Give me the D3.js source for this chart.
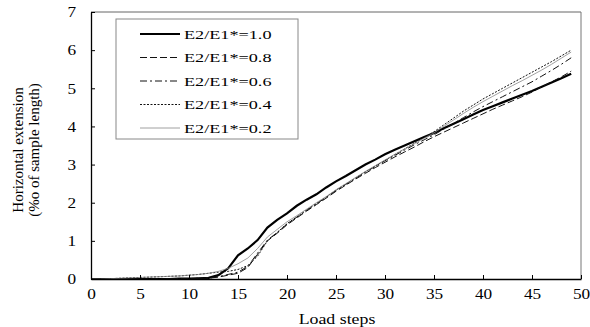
<!DOCTYPE html>
<html>
<head>
<meta charset="utf-8">
<script src="https://cdn.jsdelivr.net/npm/d3@7"></script>
<style>
  body { margin: 0; background: #fff; }
  text { font-family: "Liberation Serif", "Times New Roman", Times, serif; fill: #000; }
</style>
</head>
<body>
<script>
// load steps 0..49
const steps = d3.range(0, 50);

const s10 = [0,0,0,0,0,0,0,0,0,0.01,0.01,0.02,0.03,0.1,0.28,0.62,0.8,1.02,1.35,1.55,
  1.72,1.92,2.08,2.22,2.4,2.56,2.7,2.85,3.0,3.13,3.27,3.39,3.5,3.61,3.72,3.83,3.95,4.07,4.19,4.31,
  4.43,4.53,4.63,4.73,4.83,4.93,5.04,5.15,5.26,5.38];
const s08 = [0,0,0,0,0,0,0,0,0.01,0.01,0.01,0.02,0.02,0.05,0.1,0.15,0.3,0.65,1.0,1.2,
  1.42,1.6,1.78,1.95,2.12,2.3,2.46,2.62,2.77,2.92,3.06,3.2,3.33,3.46,3.6,3.73,3.85,3.97,4.09,4.21,
  4.33,4.45,4.56,4.67,4.78,4.9,5.04,5.17,5.3,5.45];
const s06 = [0,0,0,0,0,0,0,0,0.01,0.01,0.01,0.02,0.03,0.06,0.12,0.18,0.33,0.68,1.02,1.22,
  1.44,1.62,1.8,1.97,2.14,2.32,2.48,2.64,2.8,2.95,3.1,3.24,3.38,3.52,3.65,3.78,3.93,4.08,4.23,4.38,
  4.52,4.65,4.78,4.91,5.04,5.17,5.32,5.47,5.63,5.8];
const s04 = [0,0,0.01,0.02,0.03,0.04,0.05,0.06,0.07,0.08,0.1,0.12,0.15,0.18,0.2,0.25,0.35,0.6,1.0,1.22,
  1.45,1.63,1.81,1.98,2.15,2.33,2.49,2.65,2.81,2.96,3.11,3.26,3.41,3.56,3.71,3.86,4.04,4.22,4.4,4.56,
  4.72,4.86,5.0,5.14,5.28,5.42,5.56,5.7,5.85,6.0];
const s02 = [0,0,0.01,0.02,0.03,0.04,0.05,0.06,0.07,0.08,0.1,0.12,0.15,0.2,0.28,0.4,0.55,0.8,1.1,1.3,
  1.5,1.66,1.83,2.0,2.16,2.34,2.5,2.66,2.82,2.97,3.12,3.27,3.41,3.55,3.69,3.83,4.0,4.17,4.34,4.5,
  4.65,4.79,4.93,5.07,5.2,5.34,5.48,5.63,5.79,5.95];

const seriesNames = ["E2/E1*=1.0", "E2/E1*=0.8", "E2/E1*=0.6", "E2/E1*=0.4", "E2/E1*=0.2"];
const seriesValues = [s10, s08, s06, s04, s02];
const seriesStyle = [
  { stroke: "#000", width: 2.2, dash: null },
  { stroke: "#111", width: 1, dash: "7,3" },
  { stroke: "#111", width: 1, dash: "7,3,2,3" },
  { stroke: "#111", width: 1, dash: "2,1.5" },
  { stroke: "#888", width: 0.8, dash: null }
];
const xTicks = d3.range(0, 51, 5);
const yTicks = d3.range(0, 8, 1);

const W = 590, H = 327;
const margin = { top: 12, right: 9, bottom: 48, left: 91 };
const w = W - margin.left - margin.right;
const h = H - margin.top - margin.bottom;
const stretch = 1.15; // tick text in the reference is a bit wide

const svg = d3.select("body").append("svg").attr("width", W).attr("height", H);
const g = svg.append("g").attr("transform", `translate(${margin.left},${margin.top})`);

const x = d3.scaleLinear().domain([0, 50]).range([0, w]);
const y = d3.scaleLinear().domain([0, 7]).range([h, 0]);

// plot frame (top & right gray)
g.append("line").attr("x1", 0).attr("x2", w).attr("y1", 0).attr("y2", 0)
  .attr("stroke", "#666").attr("stroke-width", 1);
g.append("line").attr("x1", w).attr("x2", w).attr("y1", 0).attr("y2", h)
  .attr("stroke", "#777").attr("stroke-width", 1);

const line = d3.line().x((d, i) => x(steps[i])).y(d => y(d));

seriesValues.forEach((vals, k) => {
  const st = seriesStyle[k];
  g.append("path").datum(vals)
    .attr("d", line)
    .attr("fill", "none")
    .attr("stroke", st.stroke)
    .attr("stroke-width", st.width)
    .attr("stroke-dasharray", st.dash);
});

// axes with inward ticks
const xAxis = g.append("g").attr("transform", `translate(0,${h})`)
  .call(d3.axisBottom(x).tickValues(xTicks).tickFormat(d3.format("d"))
    .tickSizeInner(-4).tickSizeOuter(0).tickPadding(9));
const yAxis = g.append("g")
  .call(d3.axisLeft(y).tickValues(yTicks).tickFormat(d3.format("d"))
    .tickSizeInner(-4).tickSizeOuter(0).tickPadding(15));
[xAxis, yAxis].forEach(a => {
  a.attr("font-family", null);
  a.select(".domain").attr("stroke", "#000").attr("stroke-width", 1.3);
  a.selectAll(".tick line").attr("stroke", "#000");
  a.selectAll(".tick text").attr("font-size", 15);
});
xAxis.selectAll(".tick text").attr("transform", `scale(${stretch},1)`);
yAxis.selectAll(".tick text").attr("transform", `translate(-15,0) scale(${stretch},1) translate(15,0)`);

// axis titles
svg.append("text")
  .attr("transform", `translate(${margin.left + w / 2 + 1},324) scale(1.15,1)`)
  .attr("text-anchor", "middle").attr("font-size", 15.5).text("Load steps");
const yl = svg.append("text").attr("transform", `translate(0,150) rotate(-90)`)
  .attr("text-anchor", "middle").attr("font-size", 15);
yl.append("tspan").attr("x", 0).attr("y", 23).text("Horizontal extension");
yl.append("tspan").attr("x", 0).attr("y", 39).text("(%o of sample length)");

// legend
const lg = svg.append("g").attr("transform", "translate(116,19)");
lg.append("rect").attr("width", 182).attr("height", 120)
  .attr("fill", "#fff").attr("stroke", "#888").attr("stroke-width", 1);
seriesNames.forEach((name, k) => {
  const st = seriesStyle[k];
  const yy = 15 + k * 23.5;
  lg.append("line").attr("x1", 24).attr("x2", 64).attr("y1", yy).attr("y2", yy)
    .attr("stroke", st.stroke).attr("stroke-width", st.width)
    .attr("stroke-dasharray", st.dash);
  lg.append("text")
    .attr("transform", `translate(68,${yy + 4.5}) scale(1.4,1)`)
    .attr("font-size", 13).text(name);
});
</script>
</body>
</html>
